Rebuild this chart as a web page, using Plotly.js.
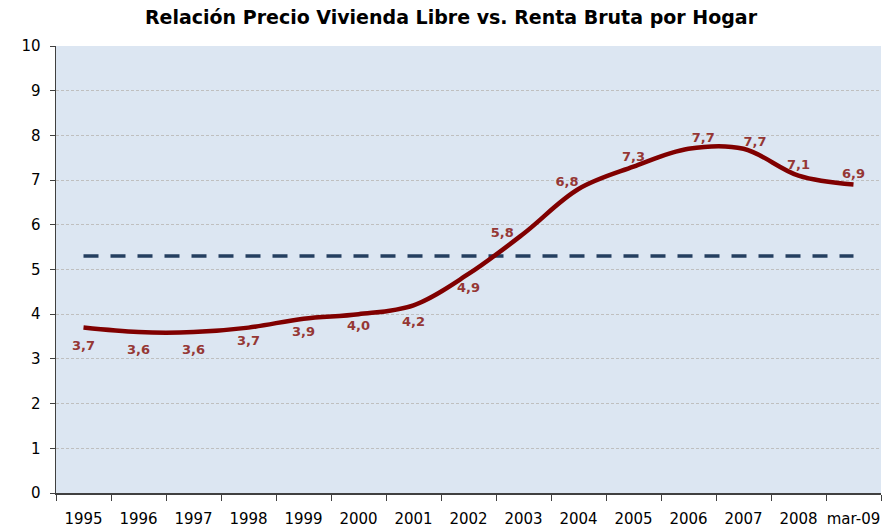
<!DOCTYPE html>
<html><head><meta charset="utf-8">
<script src="https://cdn.plot.ly/plotly-3.0.1.min.js"></script>
<style>html,body{margin:0;padding:0;background:#fff}#chart{width:893px;height:529px}</style>
</head><body><div id="chart"></div>
<script>
var categories = ['1995','1996','1997','1998','1999','2000','2001','2002','2003','2004','2005','2006','2007','2008','mar-09'];
var ratio = [3.7, 3.6, 3.6, 3.7, 3.9, 4.0, 4.2, 4.9, 5.8, 6.8, 7.3, 7.7, 7.7, 7.1, 6.9];
var average = [5.3, 5.3, 5.3, 5.3, 5.3, 5.3, 5.3, 5.3, 5.3, 5.3, 5.3, 5.3, 5.3, 5.3, 5.3];
var labelText = ['3,7','3,6','3,6','3,7','3,9','4,0','4,2','4,9','5,8','6,8','7,3','7,7','7,7','7,1','6,9'];

var font = 'DejaVu Sans, Verdana, sans-serif';
// label placement styling (text position + spacing around each point)
var labelPos = ['bottom center','bottom center','bottom center','bottom center','bottom center','bottom center','bottom center','bottom center','middle left','top left','top center','top right','top right','top center','top center'];
var labelGap = [19, 17.5, 17.5, 11, 11, 8, 16, 11, 14, 0, 2.5, 3.5, 0, 3.5, 3.5];

var traces = [
  {x: categories, y: average, type: 'scatter', mode: 'lines',
   line: {color: '#243F60', width: 3.5, dash: '15px,12px'}, hoverinfo: 'skip'},
  {x: categories, y: ratio, type: 'scatter', mode: 'lines',
   line: {color: '#800000', width: 4.5, shape: 'spline', smoothing: 1}, hoverinfo: 'skip'},
  {x: categories, y: ratio, type: 'scatter', mode: 'markers+text',
   marker: {size: labelGap, opacity: 0}, text: labelText, textposition: labelPos,
   textfont: {family: font, size: 13, color: '#953735', weight: 'bold'}, hoverinfo: 'skip'}
];
var layout = {
  width: 893, height: 529,
  margin: {l: 56, r: 12, t: 46, b: 36},
  paper_bgcolor: '#ffffff', plot_bgcolor: '#DCE6F2',
  showlegend: false,
  title: {text: '<b>Relación Precio Vivienda Libre vs. Renta Bruta por Hogar</b>',
          font: {family: font, size: 19, color: '#000'}, x: 0.505, xanchor: 'center', y: 0.967, yanchor: 'middle'},
  xaxis: {type: 'category', tickson: 'boundaries', ticks: 'outside', ticklen: 6, tickcolor: '#404040',
          showline: true, linecolor: '#404040', linewidth: 1.5, showgrid: false, zeroline: false,
          tickangle: 0,
          tickfont: {family: font, size: 15, color: '#000'}, ticklabelstandoff: 11,
          range: [-0.5, 14.5], fixedrange: true},
  yaxis: {range: [0, 10], dtick: 1, ticks: 'outside', ticklen: 5, tickcolor: '#404040',
          showline: true, linecolor: '#404040', linewidth: 1.5,
          showgrid: true, gridcolor: '#BFBFBF', griddash: '3px,2px', gridwidth: 1, zeroline: false,
          tickfont: {family: font, size: 15, color: '#000'}, ticklabelstandoff: 6, fixedrange: true}
};
Plotly.newPlot('chart', traces, layout, {displayModeBar: false, staticPlot: true});
</script></body></html>
